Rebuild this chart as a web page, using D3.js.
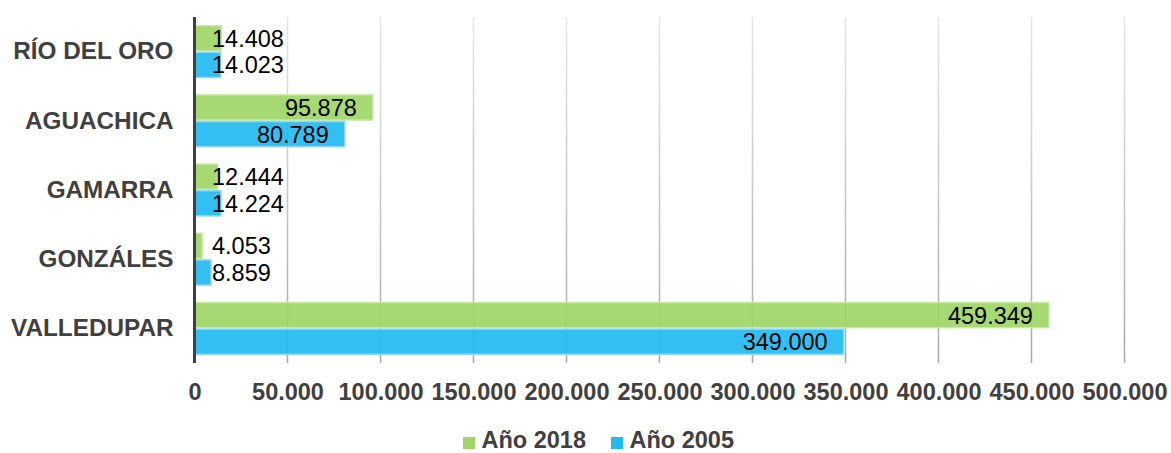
<!DOCTYPE html>
<html>
<head>
<meta charset="utf-8">
<script src="https://cdn.jsdelivr.net/npm/d3@7"></script>
<style>
  html, body { margin: 0; padding: 0; background: #fff; }
  svg { display: block; font-family: "Liberation Sans", Arial, sans-serif; }
</style>
</head>
<body>
<svg id="chart" width="1171" height="453"></svg>
<script>
// Municipalities, top to bottom
const categories = ["RÍO DEL ORO", "AGUACHICA", "GAMARRA", "GONZÁLES", "VALLEDUPAR"];
// Population by year
const values2018 = [14408, 95878, 12444, 4053, 459349];
const values2005 = [14023, 80789, 14224, 8859, 349000];
const seriesNames = ["Año 2018", "Año 2005"];
const xTicks = [0, 50000, 100000, 150000, 200000, 250000, 300000, 350000, 400000, 450000, 500000];

const colors = { fill: ["#a0d667", "#22bbf0"], edge: ["#c6e8a4", "#8fd6f6"] };
const fmt = v => d3.format(",")(v).replace(/,/g, ".");

const svg = d3.select("#chart");
const plot = { left: 194.5, right: 1124.5, top: 17, bottom: 363 };

const x = d3.scaleLinear().domain([0, 500000]).range([plot.left, plot.right]);
const y = d3.scaleBand().domain(categories).range([plot.top, plot.bottom])
  .paddingInner(0.23).paddingOuter(0.115);
const ySeries = d3.scaleBand().domain(seriesNames).range([0, y.bandwidth()]);

// Vertical gridline gradient: light at top, darker at the baseline
const defs = svg.append("defs");
const grad = defs.append("linearGradient").attr("id", "gridGrad")
  .attr("gradientUnits", "userSpaceOnUse")
  .attr("x1", 0).attr("y1", plot.top).attr("x2", 0).attr("y2", plot.bottom);
grad.append("stop").attr("offset", "0%").attr("stop-color", "#e6e6e6");
grad.append("stop").attr("offset", "100%").attr("stop-color", "#a8a8a8");

// Gridlines
svg.append("g")
  .selectAll("rect")
  .data(xTicks.slice(1))
  .join("rect")
  .attr("x", d => x(d) - 0.75)
  .attr("y", plot.top)
  .attr("width", 1.5)
  .attr("height", plot.bottom - plot.top)
  .attr("fill", "url(#gridGrad)");

// Bars
const rows = categories.map((c, i) => ({ cat: c, vals: [values2018[i], values2005[i]] }));
const groups = svg.append("g").selectAll("g")
  .data(rows).join("g")
  .attr("transform", d => `translate(0,${y(d.cat)})`);

groups.selectAll("rect")
  .data(d => d.vals.map((v, j) => ({ v, j })))
  .join("rect")
  .attr("x", x(0))
  .attr("y", d => ySeries(seriesNames[d.j]) + 0.75)
  .attr("width", d => x(d.v) - x(0))
  .attr("height", ySeries.bandwidth() - 1.5)
  .attr("fill", d => colors.fill[d.j])
  .attr("fill-opacity", 0.92)
  .attr("stroke", d => colors.edge[d.j])
  .attr("stroke-width", 1.5);

// Value labels: inside the bar end, kept clear of the axis when the bar is short
groups.selectAll("text")
  .data(d => d.vals.map((v, j) => ({ v, j })))
  .join("text")
  .attr("y", d => ySeries(seriesNames[d.j]) + ySeries.bandwidth() / 2)
  .attr("dy", "0.36em")
  .attr("font-size", "23.5px")
  .attr("fill", "#000")
  .text(d => fmt(d.v))
  .each(function (d) {
    const w = this.getComputedTextLength();
    const start = Math.max(x(d.v) - 16 - w, x(0) + 17.5);
    d3.select(this).attr("x", start);
  });

// Category axis
const yAxis = svg.append("g")
  .attr("transform", `translate(${plot.left},0)`)
  .call(d3.axisLeft(y).tickSize(0).tickPadding(21));
yAxis.select(".domain").remove();
yAxis.selectAll("text")
  .attr("font-size", "24.3px").attr("font-weight", "bold")
  .attr("fill", "#404040").attr("font-family", "Liberation Sans, Arial, sans-serif");

svg.append("line")
  .attr("x1", plot.left).attr("x2", plot.left)
  .attr("y1", plot.top).attr("y2", plot.bottom)
  .attr("stroke", "#404040").attr("stroke-width", 3);

// Value axis
const xAxis = svg.append("g")
  .attr("transform", `translate(0,${plot.bottom})`)
  .call(d3.axisBottom(x).tickValues(xTicks).tickFormat(fmt).tickSize(0).tickPadding(20));
xAxis.select(".domain").remove();
xAxis.selectAll("text")
  .attr("font-size", "23.5px").attr("font-weight", "bold")
  .attr("fill", "#404040").attr("font-family", "Liberation Sans, Arial, sans-serif");

// Legend
const legend = svg.append("g").attr("transform", "translate(0,448)");
const legendX = [463, 611];
seriesNames.forEach((name, j) => {
  legend.append("rect")
    .attr("x", legendX[j]).attr("y", -11)
    .attr("width", 12).attr("height", 12)
    .attr("fill", colors.fill[j]);
  legend.append("text")
    .attr("x", legendX[j] + 18.5).attr("y", 0)
    .attr("font-size", "23.5px").attr("font-weight", "bold")
    .attr("fill", "#404040")
    .text(name);
});
</script>
</body>
</html>
